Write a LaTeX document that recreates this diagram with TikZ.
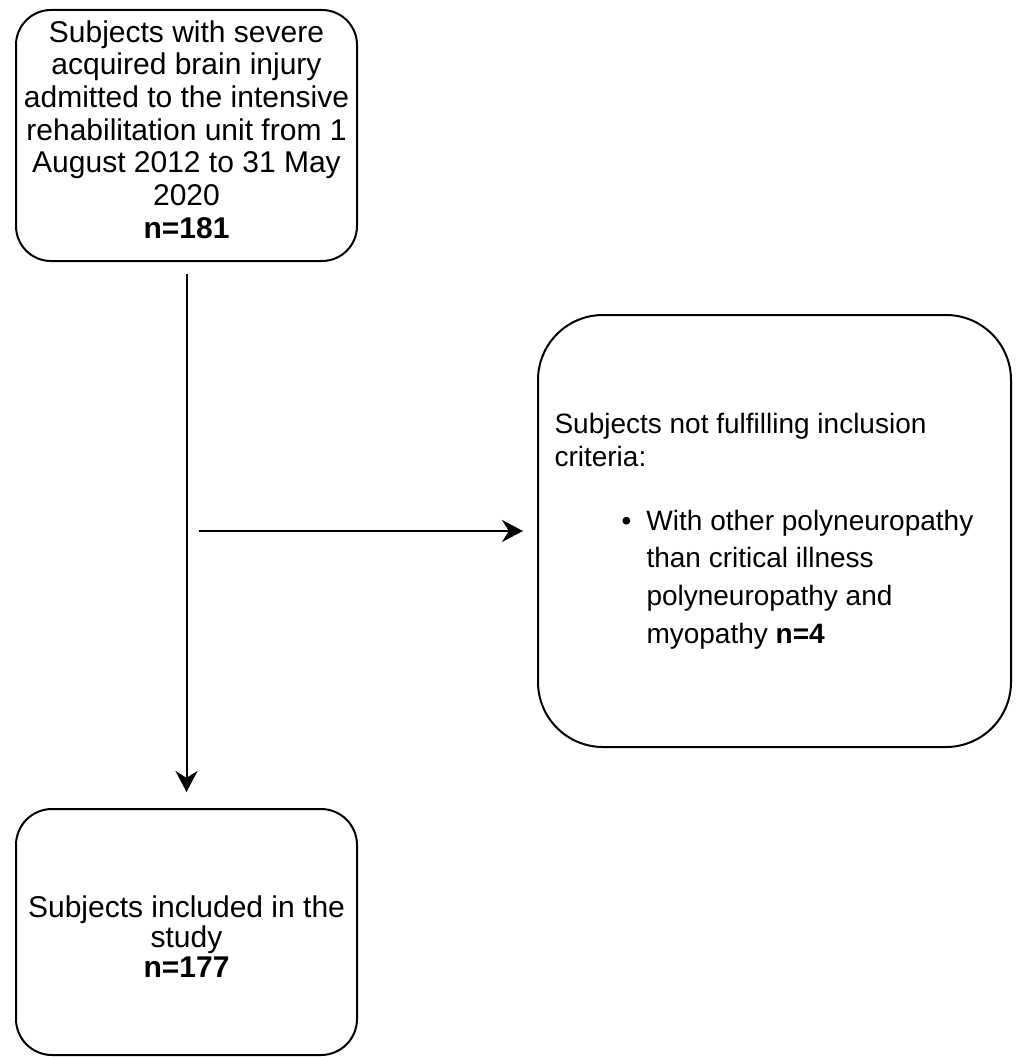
\documentclass[tikz,border=0pt]{standalone}
\usepackage{fontspec}
\setmainfont{Liberation Sans}
\usetikzlibrary{arrows.meta}

\begin{document}
\begin{tikzpicture}[
    x=1pt, y=-1pt,
    every node/.style={font=\fontsize{30}{32.7}\selectfont},
    box/.style={draw, line width=2pt, align=center, inner sep=0pt},
    flow/.style={-{Stealth[length=21pt, width=22pt]}, line width=2pt}
]
\useasboundingbox (0,0) rectangle (1017,1057);

\node[box, rounded corners=35pt, minimum width=341pt, minimum height=251pt] (admit) at (186.5,135.5)
  {Subjects with severe\\acquired brain injury\\admitted to the intensive\\rehabilitation unit from 1\\August 2012 to 31 May\\2020\\\textbf{n=181}\rule[-12.5pt]{0pt}{12.5pt}};
\node[box, rounded corners=65pt, minimum width=473pt, minimum height=432pt] (excl) at (774.5,531)
  {\begin{minipage}{440pt}\raggedright\fontsize{28}{33}\selectfont
   Subjects not fulfilling inclusion\\criteria:\par
   \vspace{31pt}
   \hspace*{67pt}\makebox[25pt][l]{\textbullet}\parbox[t]{340pt}{\raggedright\fontsize{28}{37.7}\selectfont
   With other polyneuropathy\\than critical illness\\polyneuropathy and\\myopathy \textbf{n=4}}
   \end{minipage}};
\node[box, rounded corners=36pt, minimum width=341pt, minimum height=246pt, font=\fontsize{30}{30}\selectfont] (incl) at (186.5,932)
  {\rule{0pt}{30pt}Subjects included in the\\study\\\textbf{n=177}};

\coordinate (split) at (admit.south |- excl.west);

\draw[flow, shorten <=12pt, shorten >=16pt] (admit) -- (incl);
\draw[flow, shorten <=12pt, shorten >=14pt] (split) -- (excl);
\end{tikzpicture}
\end{document}
